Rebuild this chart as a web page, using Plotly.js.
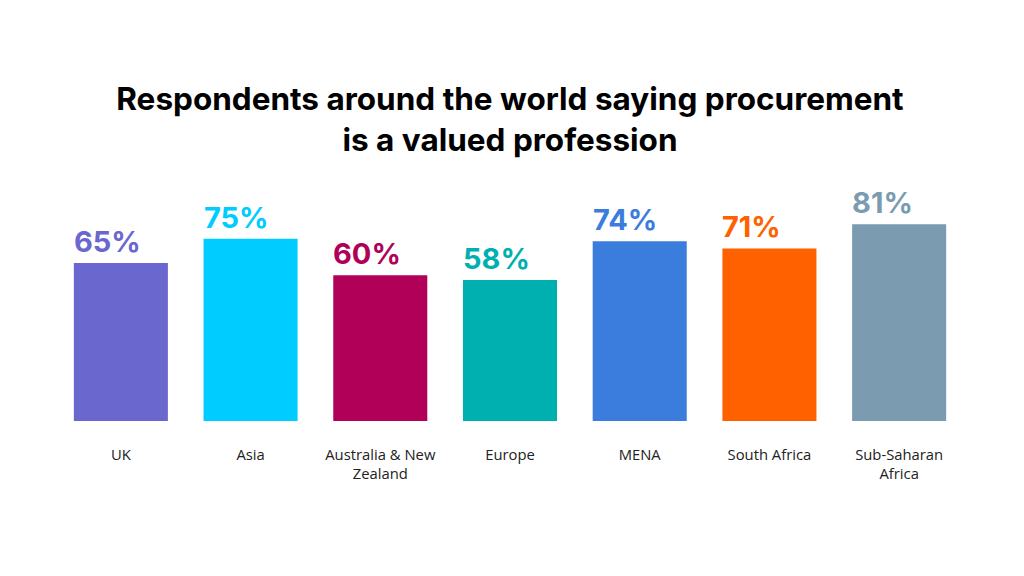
<!DOCTYPE html>
<html>
<head>
<meta charset="utf-8">
<script src="https://cdn.plot.ly/plotly-3.0.1.min.js"></script>
<style>html,body{margin:0;padding:0;background:#fff;}#chart{width:1024px;height:576px;}</style>
</head>
<body>
<div id="chart"></div>
<script>
const categories = ["UK", "Asia", "Australia & New<br>Zealand", "Europe", "MENA", "South Africa", "Sub-Saharan<br>Africa"];
const values = [65, 75, 60, 58, 74, 71, 81];
const valueLabels = ["65%", "75%", "60%", "58%", "74%", "71%", "81%"];
const colors = ["#6A67CE", "#00CCFF", "#B00058", "#00B0B0", "#3B7DDD", "#FF6100", "#7A9BB0"];

const trace = {
  type: 'bar',
  x: categories,
  y: values,
  marker: {color: colors},
  hoverinfo: 'none'
};

const annotations = categories.map((c, i) => ({
  x: c, y: values[i], xref: 'x', yref: 'y',
  text: valueLabels[i], showarrow: false,
  xanchor: 'left', yanchor: 'bottom', xshift: -49, yshift: 2,
  font: {family: 'Inter, Lato, sans-serif', size: 29, color: colors[i], weight: 700}
}));

const layout = {
  width: 1024, height: 576,
  paper_bgcolor: '#fff', plot_bgcolor: '#fff',
  margin: {l: 56, r: 60, t: 178, b: 155},
  bargap: 0.275,
  showlegend: false,
  title: {
    text: 'Respondents around the world saying procurement<br>is a valued profession',
    font: {family: 'Inter, Lato, sans-serif', size: 31.5, color: '#000', weight: 700},
    x: 0.5, xanchor: 'center', xref: 'paper',
    y: 1 - 110/576, yanchor: 'top', yref: 'container'
  },
  xaxis: {
    showgrid: false, zeroline: false, showline: false,
    ticks: 'outside', ticklen: 20, tickcolor: 'rgba(0,0,0,0)',
    tickfont: {family: 'Open Sans, sans-serif', size: 14.8, color: '#222'}
  },
  yaxis: {
    range: [0, 100], visible: false, showgrid: false, zeroline: false
  },
  annotations: annotations
};

Plotly.newPlot('chart', [trace], layout, {staticPlot: true, displayModeBar: false});
</script>
</body>
</html>
